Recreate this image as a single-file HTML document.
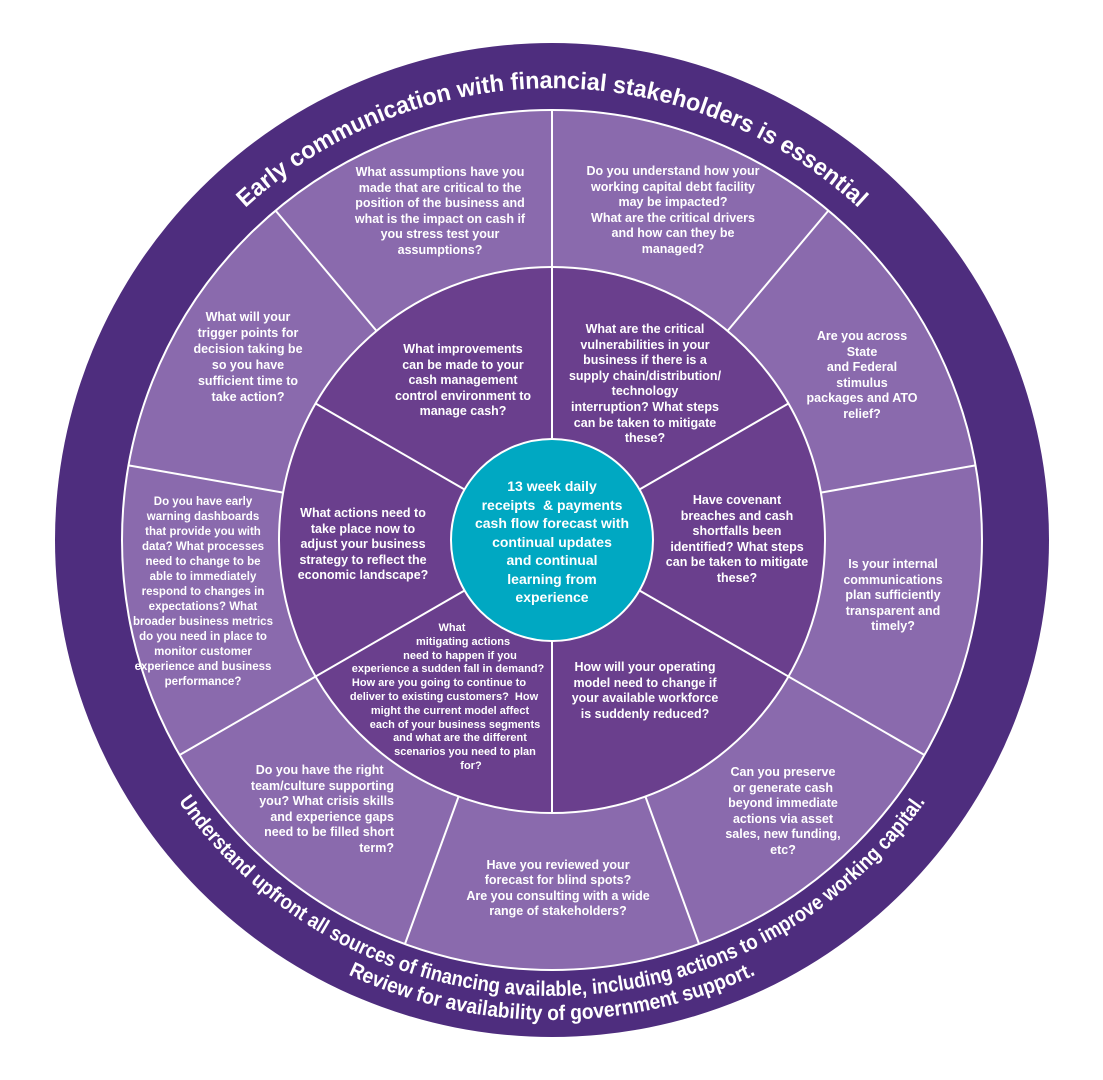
<!DOCTYPE html>
<html><head><meta charset="utf-8"><style>
html,body{margin:0;padding:0;background:#fff;}
#w{position:relative;width:1103px;height:1080px;overflow:hidden;font-family:"Liberation Sans",sans-serif;}
svg{position:absolute;left:0;top:0;}
.t{position:absolute;color:#fff;font-weight:bold;text-align:center;white-space:nowrap;}
.o{font-size:12.5px;line-height:15.6px;}
.i{font-size:12.5px;line-height:15.6px;}
</style></head><body><div id="w">
<svg width="1103" height="1080" viewBox="0 0 1103 1080">
<circle cx="552" cy="540" r="497" fill="#4e2d7e"/>
<circle cx="552" cy="540" r="430" fill="#8a6aad" stroke="#fff" stroke-width="2"/>
<circle cx="552" cy="540" r="273" fill="#6a3f8d" stroke="#fff" stroke-width="2"/>
<g stroke="#fff" stroke-width="2">
<line x1="552" y1="440" x2="552" y2="110"/>
<line x1="552" y1="640" x2="552" y2="813"/>
<line x1="638.6" y1="490" x2="788.4" y2="403.5"/>
<line x1="465.4" y1="490" x2="315.6" y2="403.5"/>
<line x1="638.6" y1="590" x2="924.4" y2="755"/>
<line x1="465.4" y1="590" x2="179.6" y2="755"/>
<line x1="727.5" y1="330.9" x2="828.4" y2="210.6"/>
<line x1="820.9" y1="492.6" x2="975.5" y2="465.4"/>
<line x1="645.4" y1="796.5" x2="699.1" y2="944.1"/>
<line x1="458.6" y1="796.5" x2="404.9" y2="944.1"/>
<line x1="283.1" y1="492.6" x2="128.5" y2="465.4"/>
<line x1="376.5" y1="330.9" x2="275.6" y2="210.6"/>
</g>
<circle cx="552" cy="540" r="101" fill="#00a8c2" stroke="#fff" stroke-width="2"/>
<defs>
<path id="pt" d="M100,540 A452,452 0 0 1 1004,540"/>
<path id="pb1" d="M96,540 A456,456 0 0 0 1008,540"/>
<path id="pb2" d="M72,540 A480,480 0 0 0 1032,540"/>
</defs>
<g fill="#fff" font-family="Liberation Sans, sans-serif" font-weight="bold" font-size="24">
<text><textPath href="#pt" startOffset="50%" text-anchor="middle" textLength="674" lengthAdjust="spacingAndGlyphs">Early communication with financial stakeholders is essential</textPath></text>
<text font-size="21"><textPath href="#pb1" startOffset="50%" text-anchor="middle" textLength="875" lengthAdjust="spacingAndGlyphs">Understand upfront all sources of financing available, including actions to improve working capital.</textPath></text>
<text font-size="21"><textPath href="#pb2" startOffset="50%" text-anchor="middle" textLength="421" lengthAdjust="spacingAndGlyphs">Review for availability of government support.</textPath></text>
</g>
</svg>

<div class="t o" style="left:340px;width:200px;top:165px;">What assumptions have you<br>made that are critical to the<br>position of the business and<br>what is the impact on cash if<br>you stress test your<br>assumptions?</div>
<div class="t o" style="left:573px;width:200px;top:164px;">Do you understand how your<br>working capital debt facility<br>may be impacted?<br>What are the critical drivers<br>and how can they be<br>managed?</div>
<div class="t o" style="left:168px;width:160px;top:309px;line-height:16px;">What will your<br>trigger points for<br>decision taking be<br>so you have<br>sufficient time to<br>take action?</div>
<div class="t o" style="left:113px;width:180px;top:495px;font-size:11.5px;line-height:15px;">Do you have early<br>warning dashboards<br>that provide you with<br>data? What processes<br>need to change to be<br>able to immediately<br>respond to changes in<br>expectations? What<br>broader business metrics<br>do you need in place to<br>monitor customer<br>experience and business<br>performance?</div>
<div class="t o" style="left:792px;width:140px;top:329px;">Are you across<br>State<br>and Federal<br>stimulus<br>packages and ATO<br>relief?</div>
<div class="t o" style="left:823px;width:140px;top:557px;">Is your internal<br>communications<br>plan sufficiently<br>transparent and<br>timely?</div>
<div class="t o" style="left:703px;width:160px;top:765px;">Can you preserve<br>or generate cash<br>beyond immediate<br>actions via asset<br>sales, new funding,<br>etc?</div>
<div class="t o" style="left:458px;width:200px;top:858px;line-height:15.3px;">Have you reviewed your<br>forecast for blind spots?<br>Are you consulting with a wide<br>range of stakeholders?</div>
<div class="t o" style="left:222px;width:172px;top:763px;text-align:right;line-height:15.5px;">Do you have the right&nbsp;&nbsp;&nbsp;<br>team/culture supporting<br>you? What crisis skills<br>and experience gaps<br>need to be filled short<br>term?</div>

<div class="t i" style="left:383px;width:160px;top:342px;">What improvements<br>can be made to your<br>cash management<br>control environment to<br>manage cash?</div>
<div class="t i" style="left:555px;width:180px;top:322px;">What are the critical<br>vulnerabilities in your<br>business if there is a<br>supply chain/distribution/<br>technology<br>interruption? What steps<br>can be taken to mitigate<br>these?</div>
<div class="t i" style="left:652px;width:170px;top:493px;">Have covenant<br>breaches and cash<br>shortfalls been<br>identified? What steps<br>can be taken to mitigate<br>these?</div>
<div class="t i" style="left:560px;width:170px;top:660px;">How will your operating<br>model need to change if<br>your available workforce<br>is suddenly reduced?</div>
<div class="t i" style="left:283px;width:160px;top:506px;">What actions need to<br>take place now to<br>adjust your business<br>strategy to reflect the<br>economic landscape?</div>
<div class="t" style="left:335px;width:240px;top:622px;font-size:11px;line-height:13.8px;">
<span style="position:relative;left:-3px">What</span><br>
<span style="position:relative;left:8px">mitigating actions</span><br>
<span style="position:relative;left:5px">need to happen if you</span><br>
<span style="position:relative;left:-7px">experience a sudden fall in demand?</span><br>
<span style="position:relative;left:-16px">How are you going to continue to</span><br>
<span style="position:relative;left:-11px">deliver to existing customers?&nbsp; How</span><br>
<span style="position:relative;left:-5px">might the current model affect</span><br>
<span style="position:relative;left:0px">each of your business segments</span><br>
<span style="position:relative;left:5px">and what are the different</span><br>
<span style="position:relative;left:10px">scenarios you need to plan</span><br>
<span style="position:relative;left:16px">for?</span></div>

<div class="t" style="left:462px;width:180px;top:477px;font-size:14px;line-height:18.5px;">13 week daily<br>receipts &nbsp;&amp; payments<br>cash flow forecast with<br>continual updates<br>and continual<br>learning from<br>experience</div>
</div></body></html>
